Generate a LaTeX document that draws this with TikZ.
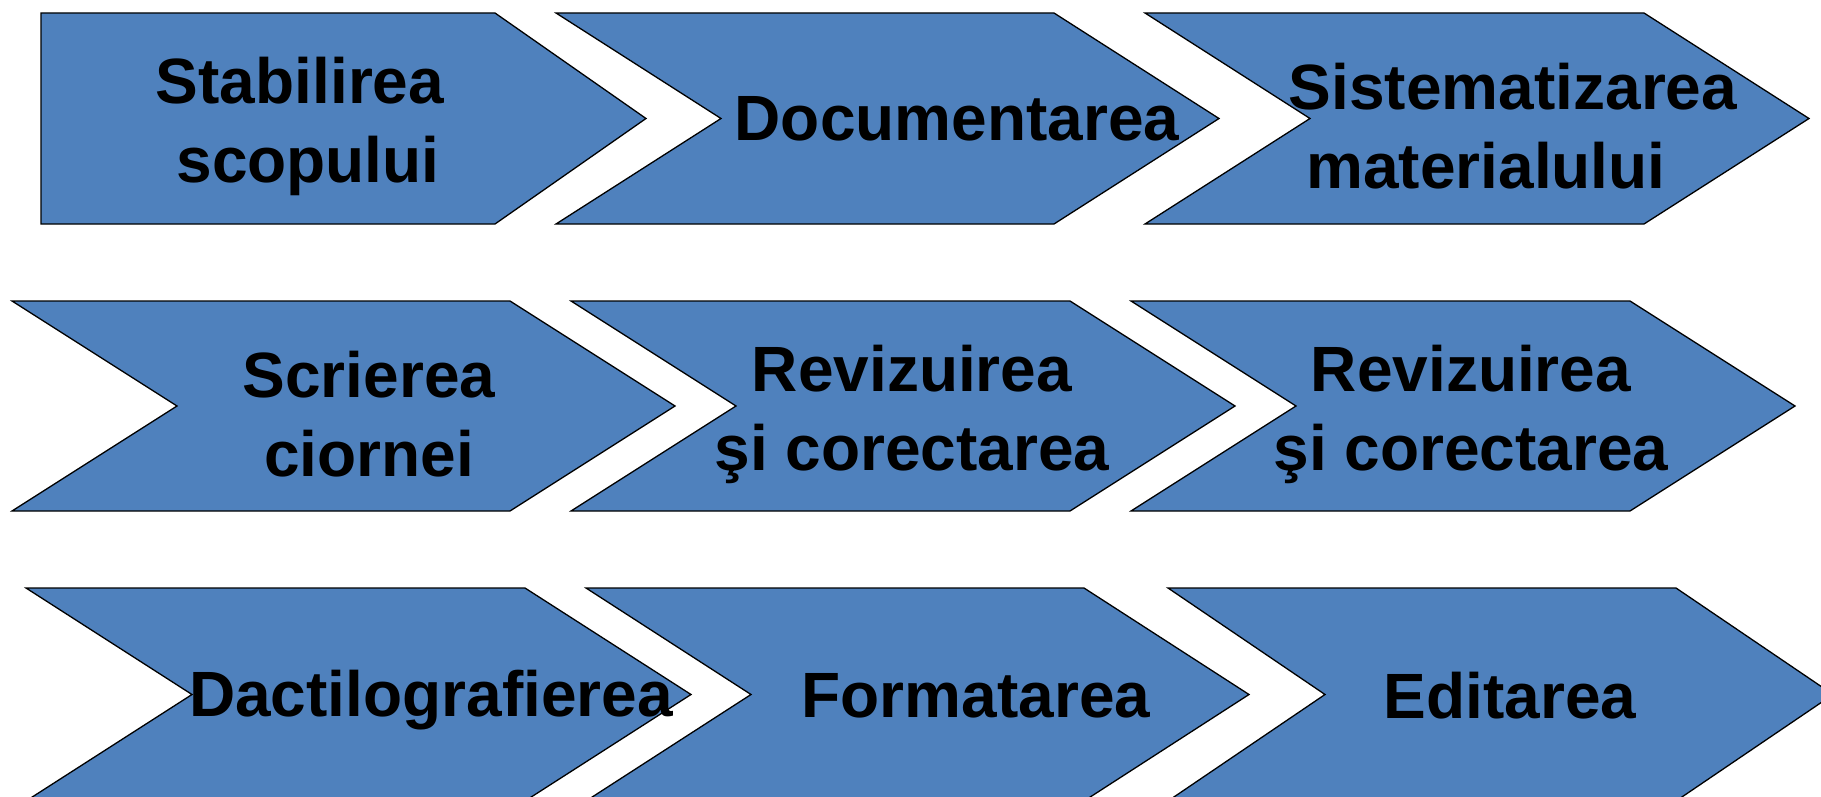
\documentclass[tikz,border=0pt]{standalone}
\usepackage{fontspec}
\setmainfont{Liberation Sans}
\usepackage{tikz}
\definecolor{stageblue}{RGB}{79,129,189}
\newcommand{\chevron}[5]{% left, right, depth, top, bottom
  \draw[stage] (#1,#4) -- (#2,#4) -- ({#2+#3},{(#4+#5)/2}) -- (#2,#5) -- (#1,#5) -- ({#1+#3},{(#4+#5)/2}) -- cycle;}

\begin{document}
\begin{tikzpicture}[x=1pt, y=-1pt, line join=miter]
      \tikzstyle{stage}=[fill=stageblue, draw=black, line width=1.3pt]
      \tikzstyle{lbl}=[align=center, inner sep=0pt, font=\fontsize{64}{79}\selectfont\bfseries]
      \useasboundingbox (0,0) rectangle (1821,797);
      \clip (0,0) rectangle (1821,797);
      % first row
      \draw[stage] (41,13) -- (495,13) -- (646,118.5) -- (495,224) -- (41,224) -- cycle;
      \chevron{556}{1054}{165}{13}{224}
      \chevron{1145}{1644}{165}{13}{224}
      % second row
      \chevron{12}{510}{165}{301}{511}
      \chevron{571}{1070}{165}{301}{511}
      \chevron{1131}{1630}{165}{301}{511}
      % third row
      \chevron{26}{525}{166}{588}{801}
      \chevron{586}{1084}{165}{588}{801}
      \chevron{1168}{1676}{157}{588}{801}
      % labels
      \node[lbl] (stab) at (300,126) {Stabilirea\\\hspace*{16pt}scopului};
      \node[lbl] (doc) at (957,119) {Documentarea};
      \node[lbl] (sist) at (1513,126) {Sistematizarea\\materialului\hspace*{54pt}};
      \node[lbl] (scri) at (369,414) {Scrierea\\ciornei};
      \node[lbl] (rev) at (912,414) {Revizuirea\\şi corectarea};
      \node[lbl] (revb) at (1471,414) {Revizuirea\\şi corectarea};
      \node[lbl] (dact) at (431,700) {Dactilografierea};
      \node[lbl] (form) at (976,696) {Formatarea};
      \node[lbl] (edit) at (1510,696) {Editarea};
\end{tikzpicture}
\end{document}
